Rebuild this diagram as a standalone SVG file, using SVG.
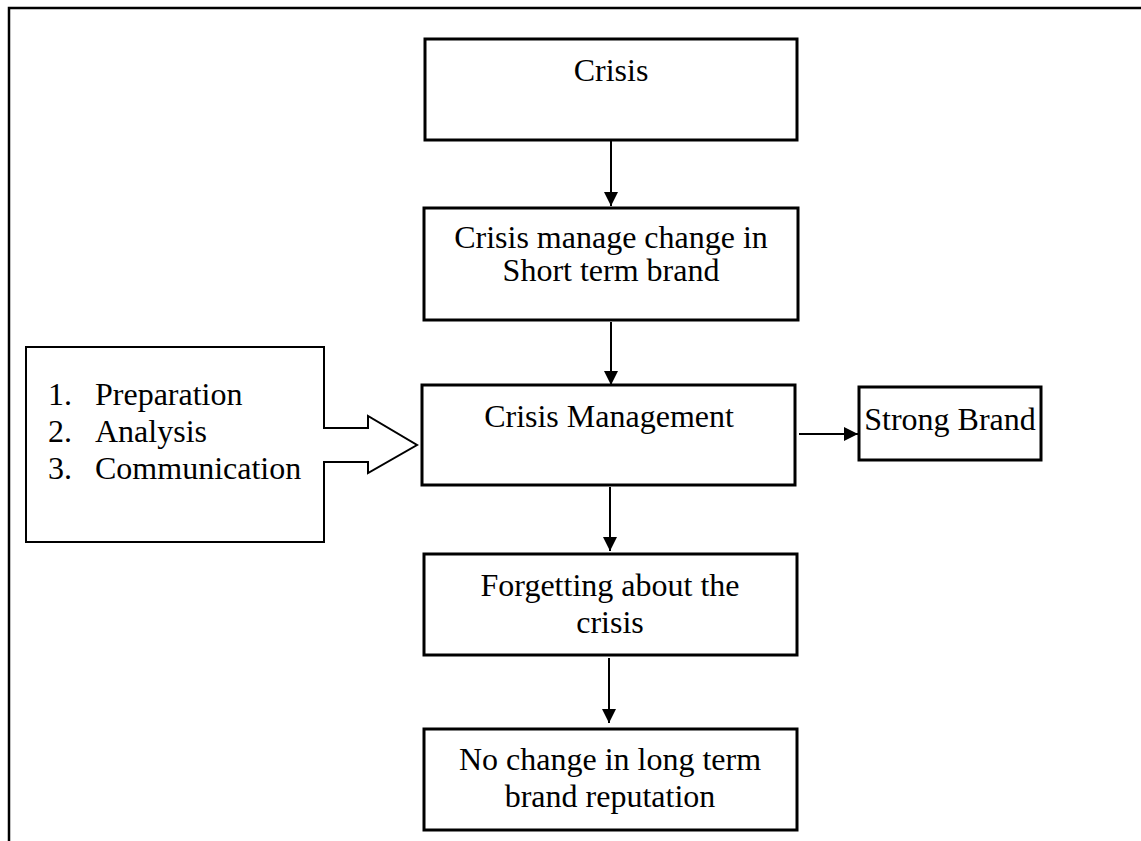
<svg xmlns="http://www.w3.org/2000/svg" width="1141" height="841" viewBox="0 0 1141 841">
<defs>
<style>
.box{fill:#fff;stroke:#000;stroke-width:3}
.t{font-family:"Liberation Serif","Times New Roman",serif;font-size:32px;fill:#000}
.c{text-anchor:middle}
.ln{stroke:#000;stroke-width:2;fill:none}
</style>
<marker id="ahb" viewBox="0 0 14 14" refX="14" refY="7" markerWidth="14" markerHeight="14" markerUnits="userSpaceOnUse" orient="auto">
<path d="M0,0 L14,7 L0,14 z" fill="#000"/>
</marker>
</defs>
<rect width="1141" height="841" fill="#fff"/>
<path d="M9,841 L9,8 L1141,8" fill="none" stroke="#000" stroke-width="2.5"/>

<g id="crisis">
<rect class="box" x="425" y="39" width="372" height="101"/>
<text class="t c" x="611" y="81">Crisis</text>
</g>
<g id="short-term">
<rect class="box" x="424" y="208" width="374" height="112"/>
<text class="t c" x="611" y="248">Crisis manage change in</text>
<text class="t c" x="611" y="281">Short term brand</text>
</g>
<g id="crisis-management">
<rect class="box" x="422" y="385" width="373" height="100"/>
<text class="t c" x="609" y="427">Crisis Management</text>
</g>
<g id="strong-brand">
<rect class="box" x="859" y="387" width="182" height="73"/>
<text class="t c" x="950" y="430">Strong Brand</text>
</g>
<g id="steps">
<path d="M324,428 L324,347 L26,347 L26,542 L324,542 L324,462 L368,462 L368,473 L417,445 L368,416 L368,428 Z" fill="#fff" stroke="#000" stroke-width="2"/>
<text class="t" x="48" y="405">1.</text>
<text class="t" x="95" y="405">Preparation</text>
<text class="t" x="48" y="442">2.</text>
<text class="t" x="95" y="442">Analysis</text>
<text class="t" x="48" y="479">3.</text>
<text class="t" x="95" y="479">Communication</text>
</g>
<g id="forgetting">
<rect class="box" x="424" y="554" width="373" height="101"/>
<text class="t c" x="610" y="596">Forgetting about the</text>
<text class="t c" x="610" y="633">crisis</text>
</g>
<g id="no-change">
<rect class="box" x="424" y="729" width="373" height="101"/>
<text class="t c" x="610" y="770">No change in long term</text>
<text class="t c" x="610" y="807">brand reputation</text>
</g>
<g id="connectors">
<line class="ln" x1="611" y1="141" x2="611" y2="206" marker-end="url(#ahb)"/>
<line class="ln" x1="611" y1="322" x2="611" y2="385" marker-end="url(#ahb)"/>
<line class="ln" x1="799" y1="434" x2="858" y2="434" marker-end="url(#ahb)"/>
<line class="ln" x1="610" y1="487" x2="610" y2="551" marker-end="url(#ahb)"/>
<line class="ln" x1="609" y1="658" x2="609" y2="723" marker-end="url(#ahb)"/>
</g>
</svg>
